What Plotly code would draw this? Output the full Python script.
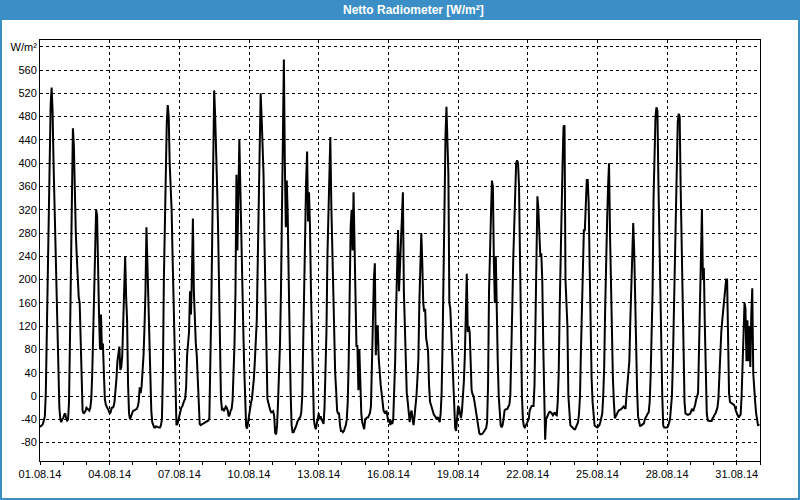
import pandas as pd
import plotly.graph_objects as go

# hourly net radiation values (W/m²), one list per day, August 2014
d01 = [-53,-52,-50,-48,-40,-35,5,110,200,330,440,500,530,490,400,330,260,200,110,30,-20,-40,-45,-40]
d02 = [-38,-32,-30,-38,-42,-40,-10,100,200,340,460,430,330,280,240,200,170,160,100,0,-25,-30,-28,-26]
d03 = [-20,-22,-25,-25,-20,-5,40,110,220,280,320,310,200,140,80,140,80,90,40,-5,-15,-20,-22,-25]
d04 = [-30,-28,-20,-20,-18,-10,5,30,60,80,85,45,50,70,120,180,240,170,130,20,-30,-40,-35,-30]
d05 = [-26,-25,-24,-23,-22,-18,-10,15,5,17,40,70,120,180,290,230,150,65,15,-25,-45,-52,-54,-54]
d06 = [-52,-53,-54,-54,-54,-50,-40,40,200,300,420,470,500,480,400,360,320,240,150,80,0,-50,-48,-40]
d07 = [-30,-22,-20,-18,-12,-8,-5,15,70,95,110,180,140,210,305,180,120,90,70,20,-30,-48,-50,-48]
d08 = [-48,-47,-46,-46,-45,-44,-42,-38,40,150,280,420,525,480,430,360,290,200,120,-5,-23,-22,-26,-20]
d09 = [-18,-20,-25,-35,-32,-25,-22,-8,30,90,180,380,250,370,440,360,260,200,120,50,-10,-52,-56,-45]
d10 = [-28,-20,-12,-5,10,30,60,90,130,230,350,430,520,480,420,380,260,150,50,-5,-12,-20,-25,-28]
d11 = [-26,-26,-35,-63,-66,-50,-10,35,90,180,310,440,578,400,290,370,310,200,80,5,-50,-62,-62,-58]
d12 = [-57,-50,-44,-40,-38,-36,-28,0,110,230,330,370,420,300,350,290,180,95,20,-40,-52,-57,-48,-35]
d13 = [-30,-40,-35,-40,-45,-48,-20,30,110,240,320,420,445,330,260,150,80,40,10,-25,-30,-30,-50,-60]
d14 = [-60,-62,-60,-55,-50,-40,-10,60,180,290,320,250,350,240,120,86,86,10,80,0,-30,-45,-52,-57]
d15 = [-40,-38,-37,-37,-34,-29,-17,50,150,200,228,70,120,120,65,35,20,5,-10,-25,-28,-30,-25,-35]
d16 = [-45,-40,-50,-42,-48,-40,0,60,150,250,285,180,230,245,300,350,180,110,50,5,-10,-25,-45,-30]
d17 = [-25,-40,-50,-35,-20,0,30,65,160,250,280,230,160,145,150,100,88,78,20,-10,-15,-22,-28,-32]
d18 = [-34,-37,-40,-36,-40,-45,-30,5,90,250,360,445,497,420,380,160,150,110,75,40,0,-55,-60,-35]
d19 = [-17,-20,-30,-38,-26,-5,25,70,130,210,110,120,110,40,10,3,0,-10,-20,-30,-42,-55,-64,-66]
d20 = [-66,-65,-63,-60,-58,-55,-45,20,180,280,310,370,360,230,160,240,130,60,0,-30,-50,-54,-50,-40]
d21 = [-25,-23,-23,-22,-18,-15,0,60,150,234,300,360,400,405,400,360,230,90,0,-40,-52,-54,-50,-46]
d22 = [-45,-40,-25,-22,-17,-17,-17,20,120,260,343,320,290,240,245,200,90,-10,-75,-40,-35,-30,-28,-27]
d23 = [-28,-30,-33,-30,-28,-32,-33,-10,40,150,260,360,400,463,465,200,150,120,0,-40,-50,-52,-54,-57]
d24 = [-57,-57,-53,-50,-45,-30,0,80,160,240,285,285,320,371,371,330,220,110,30,-10,-40,-50,-52,-54]
d25 = [-54,-52,-50,-45,-38,-30,0,50,150,255,300,360,400,280,180,100,30,-10,-38,-35,-30,-28,-25,-24]
d26 = [-24,-22,-20,-18,-20,-22,0,25,35,60,130,200,220,297,250,150,80,10,-35,-48,-51,-51,-50,-48]
d27 = [-47,-40,-36,-34,-30,-28,-10,35,90,180,340,440,480,496,490,370,270,190,80,0,-51,-54,-54,-54]
d28 = [-54,-52,-46,-40,-20,0,60,150,250,360,420,470,485,480,360,260,160,70,-10,-30,-32,-32,-32,-31]
d29 = [-30,-25,-22,-26,-22,-15,-6,0,5,80,150,210,320,200,220,120,35,-30,-42,-43,-43,-43,-43,-38]
d30 = [-36,-32,-30,-25,-20,-5,40,70,110,130,150,170,180,200,200,50,5,-10,-12,-12,-14,-15,-18,-25]
d31 = [-30,-35,-37,-34,-32,0,50,110,160,150,60,130,60,120,50,140,185,40,5,-10,-30,-45,-51,-48]

days = [d01, d02, d03, d04, d05, d06, d07, d08, d09, d10, d11, d12, d13, d14, d15, d16,
        d17, d18, d19, d20, d21, d22, d23, d24, d25, d26, d27, d28, d29, d30, d31]
values = [v for d in days for v in d]
times = pd.date_range("2014-08-01 00:00", periods=len(values), freq="h")

y_ticks = [-80, -40, 0, 40, 80, 120, 160, 200, 240, 280, 320, 360, 400, 440, 480, 520, 560, 600]
y_labels = [str(v) for v in y_ticks[:-1]] + ["W/m²"]
title_text = "Netto Radiometer [W/m²]"

BLUE = "#3c8fc6"
FONT = "Liberation Sans"

fig = go.Figure()
fig.add_trace(go.Scatter(x=times, y=values, mode="lines",
                         line=dict(color="black", width=2), hoverinfo="skip"))

W, H = 800, 500
L, R, T, B = 40, 40, 40, 39
pw, ph = W - L - R, H - T - B


def px(xp):
    return (xp - L) / pw


def py(yp):
    return (H - B - yp) / ph


fig.update_layout(
    width=W, height=H,
    margin=dict(l=L, r=R, t=T, b=B),
    paper_bgcolor="white", plot_bgcolor="white",
    showlegend=False,
    font=dict(family=FONT, size=11, color="black"),
    xaxis=dict(
        type="date",
        range=["2014-08-01 00:00", "2014-09-01 00:00"],
        tick0="2014-08-01", dtick=3 * 86400000,
        tickformat="%d.%m.%y",
        showgrid=True, gridcolor="black", gridwidth=1, griddash="3px,3px",
        showline=True, linecolor="black", linewidth=1, mirror=True,
        ticks="outside", ticklen=3, tickcolor="black",
        minor=dict(dtick=86400000, tick0="2014-08-01", ticks="outside", ticklen=3,
                   tickcolor="black", showgrid=False),
        tickfont=dict(family=FONT, size=11, color="black"),
        zeroline=False,
    ),
    yaxis=dict(
        range=[-111.6, 611.6],
        tickvals=y_ticks, ticktext=y_labels,
        showgrid=True, gridcolor="black", gridwidth=1, griddash="3px,3px",
        showline=True, linecolor="black", linewidth=1, mirror=True,
        ticks="", tickfont=dict(family=FONT, size=11, color="black"),
        zeroline=False,
    ),
    shapes=[
        dict(type="rect", xref="paper", yref="paper",
             x0=px(0), x1=px(W), y0=py(20), y1=py(0),
             fillcolor=BLUE, line=dict(width=0), layer="above"),
        dict(type="rect", xref="paper", yref="paper",
             x0=px(0), x1=px(W), y0=py(H), y1=py(0),
             fillcolor="rgba(0,0,0,0)", line=dict(color=BLUE, width=4), layer="above"),
    ],
    annotations=[
        dict(text="<b>" + title_text + "</b>", xref="paper", yref="paper",
             x=px(413), y=py(10), xanchor="center", yanchor="middle",
             showarrow=False, font=dict(family=FONT, size=12, color="white")),
    ],
)

fig.write_html("out.html")
